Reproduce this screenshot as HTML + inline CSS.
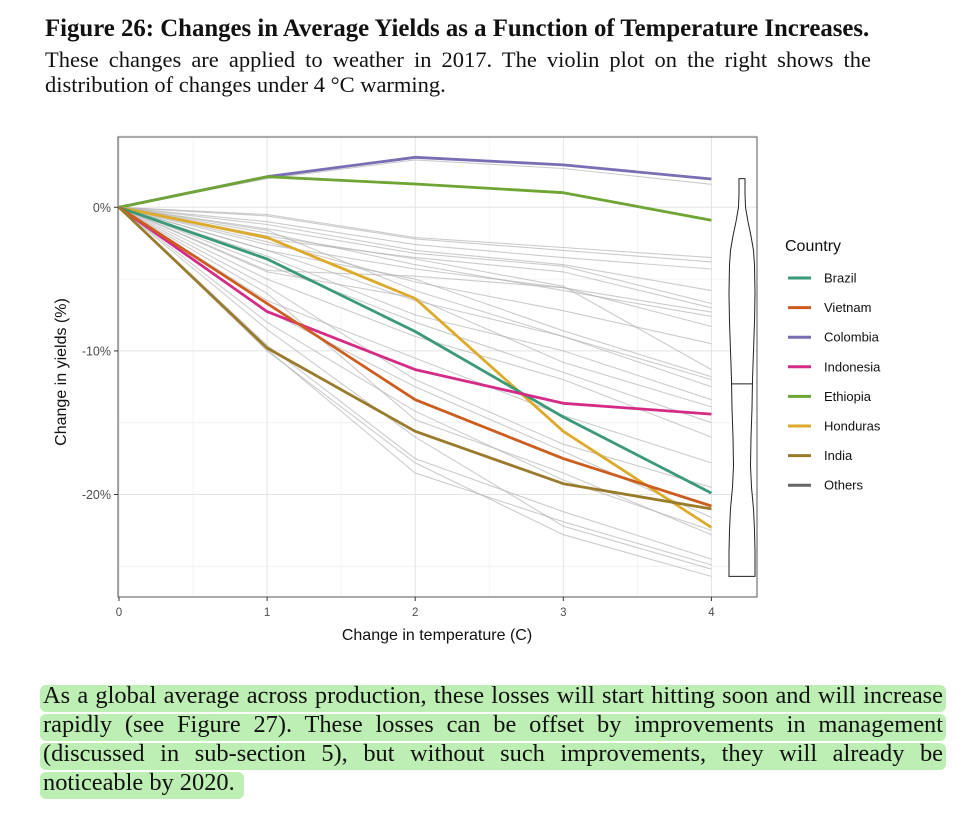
<!DOCTYPE html>
<html><head><meta charset="utf-8">
<style>
body{margin:0;background:#fff;width:979px;height:822px;overflow:hidden;position:relative;font-family:"Liberation Serif",serif;}
.ln{position:absolute;white-space:nowrap;text-align:justify;text-align-last:justify;color:#111;}
.hl{position:absolute;left:40px;width:906px;height:27px;background:#bdeeb3;border-radius:6px;}
</style></head><body>
<div class="ln" style="left:45px;top:15px;width:826px;font-size:24.8px;font-weight:bold;text-align-last:left">Figure 26: Changes in Average Yields as a Function of Temperature Increases.</div>
<div class="ln" style="left:45px;top:47px;width:826px;font-size:22.5px">These changes are applied to weather in 2017. The violin plot on the right shows the</div>
<div class="ln" style="left:45px;top:72px;width:826px;font-size:22.5px;text-align-last:left">distribution of changes under 4 °C warming.</div>

<svg id="chart" width="979" height="660" style="position:absolute;left:0;top:0" font-family="Liberation Sans, sans-serif"></svg>

<div class="hl" style="top:685px;"></div>
<div class="hl" style="top:714px;"></div>
<div class="hl" style="top:743px;"></div>
<div class="hl" style="top:772px;width:204px"></div>
<div class="ln" style="left:43px;top:682px;width:900px;font-size:24.4px">As a global average across production, these losses will start hitting soon and will increase</div>
<div class="ln" style="left:43px;top:711px;width:900px;font-size:24.4px">rapidly (see Figure 27). These losses can be offset by improvements in management</div>
<div class="ln" style="left:43px;top:740px;width:900px;font-size:24.4px">(discussed in sub-section 5), but without such improvements, they will already be</div>
<div class="ln" style="left:43px;top:769px;width:200px;font-size:24.4px;text-align-last:left">noticeable by 2020.</div>

<script>
const temps=[0,1,2,3,4];
const xTicks=[0,1,2,3,4];
const yTicks=[0,-10,-20];
const yTickLabels=["0%","-10%","-20%"];
const countries=["Brazil","Vietnam","Colombia","Indonesia","Ethiopia","Honduras","India","Others"];
const colors=["#3a9a77","#cc5d1f","#7a6db3","#d42c86","#6ea534","#ddaa2a","#9a7b2c","#666666"];
const brazil=[0,-3.6,-8.65,-14.6,-19.9];
const vietnam=[0,-6.7,-13.4,-17.5,-20.8];
const colombia=[0,2.13,3.48,2.95,1.97];
const indonesia=[0,-7.26,-11.3,-13.65,-14.4];
const ethiopia=[0,2.13,1.62,1.02,-0.9];
const honduras=[0,-2.1,-6.35,-15.6,-22.3];
const india=[0,-9.8,-15.6,-19.25,-21.0];
const others=[
[0,2.0,3.3,2.7,1.6],[0,-0.5,-2.1,-2.8,-3.5],[0,-0.6,-2.2,-3.0,-3.8],[0,-1.0,-2.6,-3.5,-4.3],
[0,-1.2,-3.0,-4.0,-5.8],[0,-1.5,-3.2,-4.1,-6.7],[0,-2.2,-3.5,-4.5,-7.0],[0,-4.4,-4.8,-5.6,-7.3],
[0,-1.8,-4.0,-5.8,-7.6],[0,-2.6,-4.3,-5.6,-8.3],[0,-2.0,-3.6,-5.5,-11.3],[0,-3.0,-5.0,-8.6,-11.8],
[0,-1.6,-5.8,-9.0,-12.5],[0,-3.4,-7.5,-10.0,-13.4],[0,-4.5,-6.3,-10.8,-13.9],[0,-5.0,-9.0,-12.0,-16.0],
[0,-6.5,-10.5,-14.5,-17.8],[0,-7.2,-12.5,-17.0,-21.6],[0,-8.0,-14.2,-19.0,-22.5],[0,-6.0,-14.8,-18.5,-22.8],
[0,-9.6,-17.5,-21.2,-24.5],[0,-9.9,-18.5,-21.9,-24.9],[0,-8.5,-16.0,-22.2,-25.2],[0,-10.0,-17.8,-22.8,-25.7],
[0,-5.5,-12.0,-16.5,-19.5],[0,-4.0,-8.0,-11.5,-15.0],[0,-3.0,-6.5,-9.0,-12.0],[0,-2.4,-5.2,-7.2,-9.5]
];
const violinTop=2.0, violinBottom=-25.7, violinMedian=-12.3;
const violinY=[2.0,1,0,-1,-2,-3,-4,-6,-8,-10,-12,-14,-16,-18,-19.5,-21,-22.5,-24,-25,-25.7];
const violinW=[3,3,3.5,6,9,11.5,12.5,13,12.5,11.5,10.5,10,9,8.5,9.5,11.5,12.5,13,13,13];

const NS="http://www.w3.org/2000/svg";
const svg=document.getElementById('chart');
const L=118,R=757,T=137,B=597;
const xS=v=>119+v*148.1;
const yS=v=>207.3-v*14.36;
function el(tag,attrs,parent){const e=document.createElementNS(NS,tag);for(const k in attrs)e.setAttribute(k,attrs[k]);(parent||svg).appendChild(e);return e;}
const grid=el('g',{});


for(let v=0.5;v<=4;v+=1) el('line',{x1:xS(v),x2:xS(v),y1:T,y2:B,stroke:'#f0f0f0','stroke-width':0.8},grid);
for(let v=5;v>=-25;v-=10) el('line',{x1:L,x2:R,y1:yS(v),y2:yS(v),stroke:'#f0f0f0','stroke-width':0.8},grid);
xTicks.forEach(v=>el('line',{x1:xS(v),x2:xS(v),y1:T,y2:B,stroke:'#e4e4e4','stroke-width':1},grid));
yTicks.forEach(v=>el('line',{x1:L,x2:R,y1:yS(v),y2:yS(v),stroke:'#e4e4e4','stroke-width':1},grid));
function path(vals){return vals.map((v,i)=>(i?'L':'M')+xS(temps[i]).toFixed(1)+','+yS(v).toFixed(1)).join('');}
const og=el('g',{});


others.forEach((s,i)=>{const p=el('path',{d:path(s),fill:'none',stroke:'#b0b0b0','stroke-opacity':0.65,'stroke-width':1.1},og);

});
const series=[brazil,vietnam,colombia,indonesia,ethiopia,honduras,india];
const order=[2,4,5,0,3,1,6];
order.forEach(i=>{const p=el('path',{d:path(series[i]),fill:'none',stroke:colors[i],'stroke-width':2.8,'stroke-linejoin':'round'});

});
const vc=742;
let d='M'+vc+','+yS(violinY[0]);
violinY.forEach((y,i)=>{d+='L'+(vc+violinW[i]).toFixed(1)+','+yS(y).toFixed(1);});
for(let i=violinY.length-1;i>=0;i--) d+='L'+(vc-violinW[i]).toFixed(1)+','+yS(violinY[i]).toFixed(1);
d+='Z';
const vp=el('path',{d:d,fill:'#fff',stroke:'#222','stroke-width':1});


const ml=el('line',{x1:vc-11,x2:vc+11,y1:yS(violinMedian),y2:yS(violinMedian),stroke:'#222','stroke-width':1});


const fr=el('rect',{x:L,y:T,width:R-L,height:B-T,fill:'none',stroke:'#555','stroke-width':1});


xTicks.forEach(v=>{el('line',{x1:xS(v),x2:xS(v),y1:B,y2:B+4,stroke:'#333'});
const t=el('text',{x:xS(v),y:B+19,'font-size':11.5,fill:'#4d4d4d','text-anchor':'middle'});t.textContent=v;

});
yTicks.forEach((v,i)=>{el('line',{x1:L-4,x2:L,y1:yS(v),y2:yS(v),stroke:'#333'});
const t=el('text',{x:L-7,y:yS(v)+4.5,'font-size':12.5,fill:'#4d4d4d','text-anchor':'end'});t.textContent=yTickLabels[i];

});
const xt=el('text',{x:437,y:640,'font-size':16,fill:'#111','text-anchor':'middle'});xt.textContent='Change in temperature (C)';


const yt=el('text',{x:0,y:0,'font-size':16,fill:'#111','text-anchor':'middle',transform:'translate(66,372) rotate(-90)'});yt.textContent='Change in yields (%)';


const lt=el('text',{x:785,y:251,'font-size':16,fill:'#111'});lt.textContent='Country';


countries.forEach((c,i)=>{const g=el('g',{});


const y=278+i*29.6;
el('line',{x1:788,x2:811,y1:y,y2:y,stroke:colors[i],'stroke-width':3},g);
const t=el('text',{x:824,y:y+4.5,'font-size':13,fill:'#111'},g);t.textContent=c;});
</script>
</body></html>
